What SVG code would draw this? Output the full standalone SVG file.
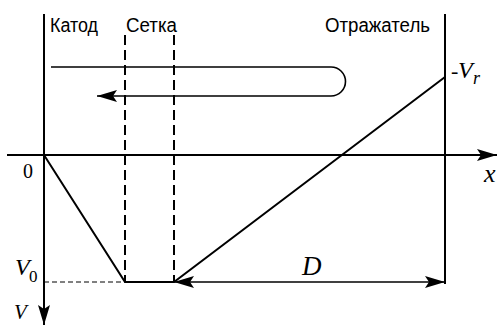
<svg xmlns="http://www.w3.org/2000/svg" width="498" height="325" viewBox="0 0 498 325">
<style>
.ax{stroke:#000;stroke-width:2;fill:none}
.thin{stroke:#000;stroke-width:1.6;fill:none}
.grid{stroke:#000;stroke-width:2;stroke-dasharray:10 5;fill:none}
.v0{stroke:#000;stroke-width:1;stroke-dasharray:5 3;fill:none}
.lbl{font-family:"Liberation Sans",Arial,sans-serif;font-size:20px;fill:#000}
.math{font-family:"Liberation Serif","Times New Roman",serif;font-style:italic;fill:#000}
.num{font-family:"Liberation Serif","Times New Roman",serif;fill:#000}
</style>
<defs>
<marker id="arr" markerUnits="userSpaceOnUse" markerWidth="24" markerHeight="14" viewBox="0 -7 24 14" refX="20" refY="0" orient="auto-start-reverse">
<path d="M0,-6 L20,0 L0,6 L4,0 z" fill="#000"/>
</marker>
</defs>
<g id="connectors">
<line class="ax" x1="7" y1="155" x2="497" y2="155" marker-end="url(#arr)"/>
<line class="ax" x1="44" y1="14" x2="44" y2="325" marker-end="url(#arr)"/>
<line class="ax" x1="445" y1="14" x2="445" y2="284"/>
<line class="grid" x1="125" y1="35" x2="125" y2="282"/>
<line class="grid" x1="174" y1="35" x2="174" y2="282"/>
<line class="v0" x1="44" y1="282" x2="125" y2="282"/>
<path class="ax" d="M44,155 L125,282 L174,282 L445,77"/>
<path class="thin" d="M51,67 H331 A14.5,14.5 0 0 1 331,96 H97" marker-end="url(#arr)"/>
<line class="thin" x1="174" y1="282" x2="445" y2="282" marker-start="url(#arr)" marker-end="url(#arr)"/>
</g>
<g id="labels">
<text class="lbl" x="50" y="32" textLength="48" lengthAdjust="spacingAndGlyphs">Катод</text>
<text class="lbl" x="126" y="32" textLength="51" lengthAdjust="spacingAndGlyphs">Сетка</text>
<text class="lbl" x="325" y="32" textLength="105" lengthAdjust="spacingAndGlyphs">Отражатель</text>
<text class="num" x="23" y="178" font-size="20">0</text>
<text class="math" x="15" y="275" font-size="24">V</text>
<text class="num" x="29" y="282" font-size="17">0</text>
<text class="math" x="14" y="319" font-size="21">V</text>
<text class="math" x="484" y="182" font-size="26">x</text>
<text class="math" x="302" y="275" font-size="27">D</text>
<text class="num" x="451" y="78" font-size="22">-</text>
<text class="math" x="458" y="78" font-size="24">V</text>
<text class="math" x="473" y="84" font-size="18">r</text>
</g>
</svg>
